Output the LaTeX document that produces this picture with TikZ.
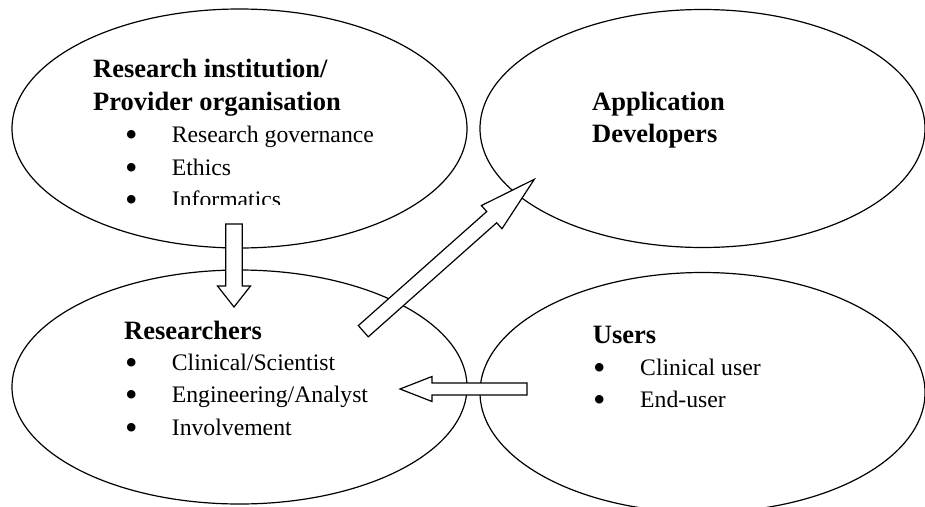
\documentclass[tikz,border=0pt]{standalone}
\usepackage{fontspec}
\setmainfont{Liberation Serif}
\usetikzlibrary{shapes.geometric,calc}

% bullet and the gap before the item text
\newcommand{\dotmark}[1][46.7pt]{\makebox[#1][l]{\raisebox{-4pt}{\scalebox{1.5}{\textbullet}}}}
% hollow block arrow: from, to, half shaft, half head, head length
\newcommand{\fatarrow}[5]{%
  \coordinate (fa-h) at ($(#2)!#5!(#1)$);
  \draw[blockarrow] ($(#1)!#3!90:(#2)$) -- ($(fa-h)!#3!-90:(#1)$)
    -- ($(fa-h)!#4!-90:(#1)$) -- (#2) -- ($(fa-h)!#4!90:(#1)$)
    -- ($(fa-h)!#3!90:(#1)$) -- ($(#1)!#3!-90:(#2)$) -- cycle;}

\begin{document}
\begin{tikzpicture}
[
    x=1pt, y=-1pt,
    bubble/.style={draw, ellipse, line width=1.2pt, inner sep=0pt},
    blockarrow/.style={draw, fill=white, line width=1.2pt, line join=miter},
    heading/.style={anchor=base west, inner sep=0pt, font=\fontsize{26.5}{32}\selectfont\bfseries},
    item/.style={anchor=base west, inner sep=0pt, font=\fontsize{23.7}{32}\selectfont},
]
\useasboundingbox (0,0) rectangle (925,506);

% the four groups
\node[bubble, minimum width=455pt, minimum height=239pt] (inst) at (239.5,128.5) {};
\node[bubble, minimum width=445pt, minimum height=238pt] (apps) at (702.5,128.5) {};
\node[bubble, minimum width=455pt, minimum height=234pt] (res) at (239.5,387) {};
\node[bubble, minimum width=445pt, minimum height=240pt] (users) at (702.5,392.5) {};

% research institution
\node[heading] (inst-t1) at (93,77) {Research institution/};
\node[heading] (inst-t2) at (93,110) {Provider organisation};
\begin{scope}
\clip (0,0) rectangle (470,204);
\foreach \txt [count=\i] in {Research governance, Ethics, Informatics}
    \node[item] (inst-\i) at (125,{110.5+32.3*\i}) {\dotmark\txt};
\end{scope}

% application developers
\node[heading] (apps-t1) at (592,110) {Application};
\node[heading] (apps-t2) at (592,142) {Developers};

% researchers
\node[heading] (res-t) at (124,339) {Researchers};
\foreach \txt [count=\i] in {Clinical/Scientist, Engineering/Analyst, Involvement}
    \node[item] (res-\i) at (125,{337.5+32.5*\i}) {\dotmark\txt};

% users
\node[heading] (users-t) at (592.7,343.3) {Users};
\foreach \txt [count=\i] in {Clinical user, End-user}
    \node[item] (users-\i) at (593,{343+32*\i}) {\dotmark[47pt]\txt};

% block arrows
\coordinate (down-tail) at (234,224);
\coordinate (down-tip) at (234,307);
\fatarrow{down-tail}{down-tip}{8.25pt}{16.5pt}{21pt}
\coordinate (diag-tail) at (363.3,331.2);
\coordinate (diag-tip) at (534.3,179.3);
\fatarrow{diag-tail}{diag-tip}{7.5pt}{15.5pt}{57pt}
\coordinate (left-tail) at (527,389);
\coordinate (left-tip) at (400,389);
\fatarrow{left-tail}{left-tip}{6pt}{12.5pt}{32pt}
\end{tikzpicture}
\end{document}
